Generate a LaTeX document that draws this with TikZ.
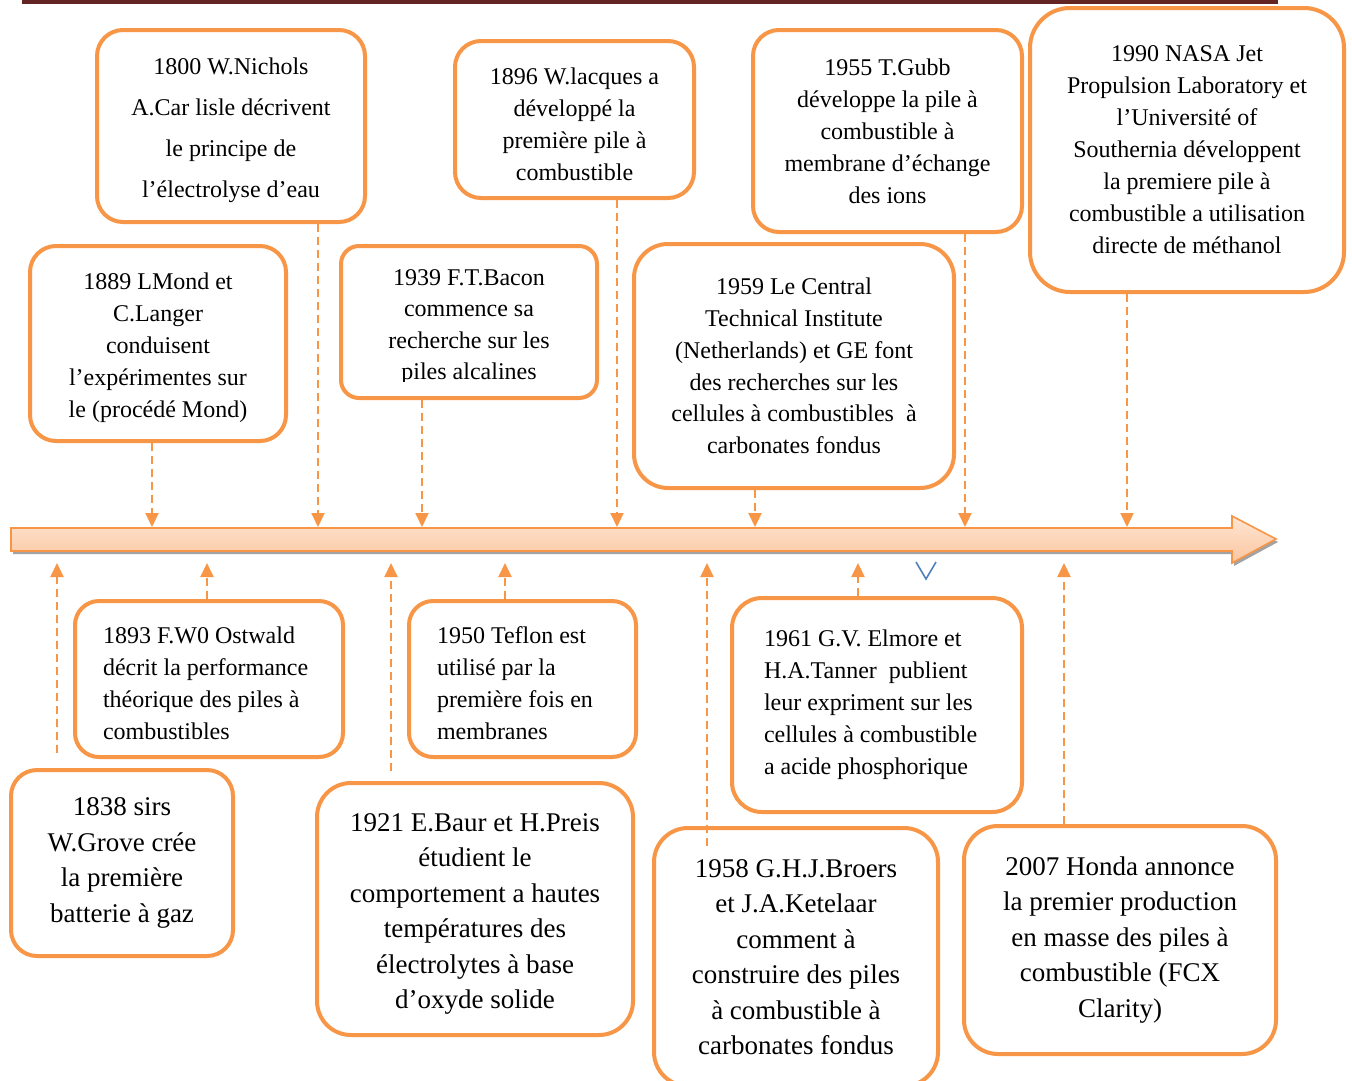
\documentclass[tikz,border=0pt]{standalone}
\usepackage{fontspec}
\setmainfont{Liberation Serif}
\usetikzlibrary{arrows.meta,calc}
\definecolor{org}{HTML}{F79646}
\definecolor{barred}{HTML}{632523}
\definecolor{vblue}{HTML}{4F81BD}
\definecolor{ltop}{HTML}{FEE5D2}
\definecolor{lbot}{HTML}{FBC6A0}
\definecolor{shadowgray}{HTML}{A3A3A3}
\newcommand{\dnstrut}[1]{\rule{0pt}{#1}}
\begin{document}
\begin{tikzpicture}[x=1pt,y=-1pt,
  evbox/.style={draw=org, line width=4pt, rounded corners=26pt, fill=white,
    inner xsep=4pt, inner ysep=0pt, align=center, text=black},
  lbox/.style={draw=org, line width=4pt, rounded corners=24pt, fill=white,
    inner ysep=0pt, align=flush left, text=black},
  sz/.style n args={2}{minimum width=#1, minimum height=#2},
  ftop/.style={font=\fontsize{24}{32}\selectfont},
  fbig/.style={font=\fontsize{27}{35.5}\selectfont},
  conn/.style={draw=org, line width=2.2pt, dash pattern=on 8pt off 5pt,
    -{Triangle[width=13pt,length=14pt]}},
]
\useasboundingbox (0,0) rectangle (1352,1080);
\fill[white] (0,0) rectangle (1352,1080);
% top rule
\fill[barred] (22,0) rectangle (1278,4);

% timeline arrow
\fill[shadowgray] (13,531) -- (1234,531) -- (1234,519) -- (1278,542) -- (1234,566) -- (1234,554) -- (13,554) -- cycle;
\shade[top color=ltop, bottom color=lbot, draw=org, line width=1.6pt, line join=miter]
  (11,528) -- (1232,528) -- (1232,516) -- (1276,539) -- (1232,563) -- (1232,551) -- (11,551) -- cycle;

% points on the timeline
\coordinate (d1) at (152,527);
\coordinate (d2) at (318,527);
\coordinate (d3) at (422,527);
\coordinate (d4) at (617,527);
\coordinate (d5) at (755,527);
\coordinate (d6) at (965,527);
\coordinate (d7) at (1127,527);
\coordinate (u1) at (57,563);
\coordinate (u2) at (207,563);
\coordinate (u3) at (391,563);
\coordinate (u4) at (505,563);
\coordinate (u5) at (707,563);
\coordinate (u6) at (858,563);
\coordinate (u7) at (1064,563);

% ---------- upper boxes ----------
\node[evbox, sz={268}{192}, font=\fontsize{24}{41}\selectfont] (b1800) at (231,126)
  {\dnstrut{26pt}1800 W.Nichols\\A.Car lisle décrivent\\le principe de\\l’électrolyse d’eau};
\node[evbox, sz={239}{157}, ftop] (b1896) at (574.5,119.5)
  {\dnstrut{26pt}1896 W.lacques a\\développé la\\première pile à\\combustible};
\node[evbox, sz={269}{202}, ftop] (b1955) at (887.5,131)
  {1955 T.Gubb\\développe la pile à\\combustible à\\membrane d’échange\\des ions};
\node[evbox, sz={314}{284}, rounded corners=40pt, ftop] (b1990) at (1187,150)
  {1990 NASA Jet\\Propulsion Laboratory et\\l’Université of\\Southernia développent\\la premiere pile à\\combustible a utilisation\\directe de méthanol};
\node[evbox, sz={256}{195}, ftop] (b1889) at (158,343.5)
  {\dnstrut{25pt}1889 LMond et\\C.Langer\\conduisent\\l’expérimentes sur\\le (procédé Mond)};
\node[evbox, sz={256}{152}, rounded corners=18pt, font=\fontsize{24}{31.5}\selectfont] (b1939) at (469,322)
  {\dnstrut{26pt}1939 F.T.Bacon\\commence sa\\recherche sur les\\piles alcalines};
\node[evbox, sz={320}{244}, rounded corners=34pt, font=\fontsize{24}{31.7}\selectfont] (b1959) at (794,366)
  {1959 Le Central\\Technical Institute\\(Netherlands) et GE font\\des recherches sur les\\cellules à combustibles \ à\\carbonates fondus};

% ---------- lower boxes ----------
\node[lbox, sz={268}{156}, inner xsep=28pt, text width=212pt, ftop] (b1893) at (209,679)
  {\dnstrut{25pt}1893 F.W0 Ostwald\\décrit la performance\\théorique des piles à\\combustibles};
\node[lbox, sz={227}{156}, inner xsep=28pt, text width=171pt, ftop] (b1950) at (522.5,679)
  {\dnstrut{25pt}1950 Teflon est\\utilisé par la\\première fois en\\membranes};
\node[lbox, sz={290}{214}, inner xsep=32pt, text width=226pt, rounded corners=30pt, ftop] (b1961) at (877,705)
  {1961 G.V. Elmore et\\H.A.Tanner \ publient\\leur expriment sur les\\cellules à combustible\\a acide phosphorique};
\node[evbox, sz={222}{186}, fbig] (b1838) at (122,863)
  {1838 sirs\\W.Grove crée\\la première\\batterie à gaz};
\node[evbox, sz={316}{252}, rounded corners=34pt, fbig] (b1921) at (475,909)
  {\dnstrut{28pt}1921 E.Baur et H.Preis\\étudient le\\comportement a hautes\\températures des\\électrolytes à base\\d’oxyde solide};
\node[evbox, sz={284}{258}, rounded corners=34pt, fbig] (b1958) at (796,957)
  {1958 G.H.J.Broers\\et J.A.Ketelaar\\comment à\\construire des piles\\à combustible à\\carbonates fondus};
\node[evbox, sz={312}{228}, rounded corners=34pt, fbig] (b2007) at (1120,940)
  {2007 Honda annonce\\la premier production\\en masse des piles à\\combustible (FCX\\Clarity)};

% the last line of the 1939 box is cut off at the bottom of its text area
\fill[white] (380,382) rectangle (560,393);

% ---------- connectors down to the timeline ----------
\draw[conn] (b1889.south -| d1) -- (d1);
\draw[conn] (b1800.south -| d2) -- (d2);
\draw[conn] (b1939.south -| d3) -- (d3);
\draw[conn] (b1896.south -| d4) -- (d4);
\draw[conn] (b1959.south -| d5) -- (d5);
\draw[conn] (b1955.south -| d6) -- (d6);
\draw[conn] (b1990.south -| d7) -- (d7);

% ---------- connectors up to the timeline ----------
\draw[conn] ($(b1838.north -| u1)+(0,-15)$) -- (u1);
\draw[conn] (b1893.north -| u2) -- (u2);
\draw[conn] ($(b1921.north -| u3)+(0,-10)$) -- (u3);
\draw[conn] (b1950.north -| u4) -- (u4);
\draw[conn] ($(b1958.north -| u5)+(0,20)$) -- (u5);
\draw[conn] (b1961.north -| u6) -- (u6);
\draw[conn] (b2007.north -| u7) -- (u7);

% small blue mark
\draw[vblue, line width=1.6pt, line join=miter] (916,562) -- (926,579) -- (936,562);
\end{tikzpicture}
\end{document}
